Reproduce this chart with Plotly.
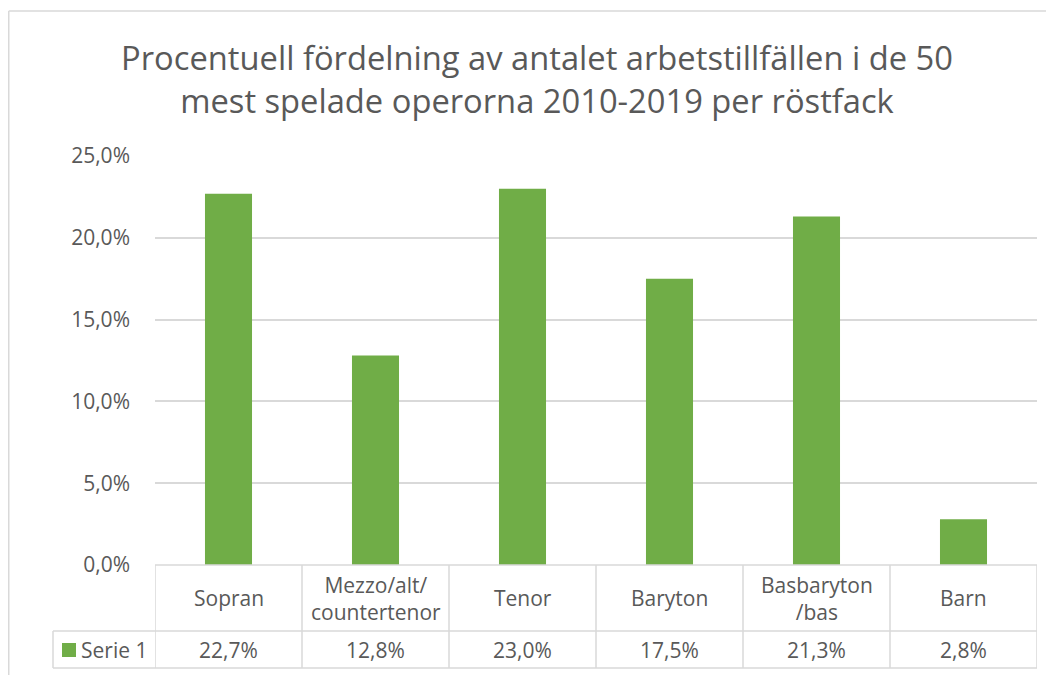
import plotly.graph_objects as go

categories = ["Sopran", "Mezzo/alt/<br>countertenor", "Tenor", "Baryton", "Basbaryton<br>/bas", "Barn"]
values = [22.7, 12.8, 23.0, 17.5, 21.3, 2.8]
value_labels = ["22,7%", "12,8%", "23,0%", "17,5%", "21,3%", "2,8%"]
series_name = "Serie 1"
title_text = "Procentuell fördelning av antalet arbetstillfällen i de 50<br>mest spelade operorna 2010-2019 per röstfack"

GREEN = "#70ad47"
TEXT = "#595959"
GRID = "#d9d9d9"
FONT = "Open Sans, Liberation Sans, sans-serif"

# page has an 8px body margin; work in page pixel coordinates
OFF = 8
W, H = 1054 - OFF, 675 - OFF
PL, PR, PT, PB = 155, 1037, 156, 565  # plot area in page pixels
L, R, T, B = PL - OFF, (1054 - PR), PT - OFF, H - (PB - OFF)
ph = PB - PT
pw = PR - PL

def py(ypix):
    return (PB - ypix) / ph

def px(xpix):
    return (xpix - PL) / pw

n = len(categories)
x_idx = list(range(n))

fig = go.Figure()
fig.add_trace(go.Bar(
    x=x_idx, y=values, marker=dict(color=GREEN, line=dict(width=0)),
    width=0.32, name=series_name, showlegend=False, hoverinfo="skip",
))

shapes = []
annotations = []
row1_bot = py(631)
row2_bot = py(668)
ln = dict(color=GRID, width=1.5)
shapes.append(dict(type="line", xref="paper", yref="paper", x0=0, x1=1, y0=0, y1=0, line=ln))
shapes.append(dict(type="line", xref="paper", yref="paper", x0=px(53), x1=1, y0=row1_bot, y1=row1_bot, line=ln))
shapes.append(dict(type="line", xref="paper", yref="paper", x0=px(53), x1=1, y0=row2_bot, y1=row2_bot, line=ln))
for i in range(n + 1):
    shapes.append(dict(type="line", xref="x", yref="paper", x0=i - 0.5, x1=i - 0.5, y0=0, y1=row2_bot, line=ln))
shapes.append(dict(type="line", xref="paper", yref="paper", x0=px(53), x1=px(53), y0=row1_bot, y1=row2_bot, line=ln))
# outer chart border (top & left)
shapes.append(dict(type="line", xref="paper", yref="paper", x0=px(8.75), x1=px(1054), y0=py(11), y1=py(11), line=ln))
shapes.append(dict(type="line", xref="paper", yref="paper", x0=px(8.75), x1=px(8.75), y0=py(11), y1=py(680), line=ln))
# legend key square
shapes.append(dict(type="rect", xref="paper", yref="paper", x0=px(62), x1=px(76), y0=py(657), y1=py(643),
                   fillcolor=GREEN, line=dict(width=0)))

tf = dict(size=21, color=TEXT, family=FONT)
for i, (c, v) in enumerate(zip(categories, value_labels)):
    annotations.append(dict(x=i, y=(0 + row1_bot) / 2, xref="x", yref="paper", text=c, showarrow=False,
                            xanchor="center", yanchor="middle", font=tf, align="center"))
    annotations.append(dict(x=i, y=(row1_bot + row2_bot) / 2, xref="x", yref="paper", text=v, showarrow=False,
                            xanchor="center", yanchor="middle", font=tf))
annotations.append(dict(x=px(79), y=(row1_bot + row2_bot) / 2, xref="paper", yref="paper", text=series_name,
                        showarrow=False, xanchor="left", yanchor="middle", font=tf))

fig.update_layout(
    width=W, height=H,
    margin=dict(l=L, r=R, t=T, b=B, autoexpand=False),
    paper_bgcolor="white", plot_bgcolor="white",
    title=dict(text=title_text, x=(537 - OFF) / W, xanchor="center", y=1 - 62 / H, yanchor="middle",
               font=dict(size=32.7, color=TEXT, family=FONT)),
    xaxis=dict(range=[-0.5, n - 0.5], showticklabels=False, showgrid=False, zeroline=False,
               showline=False, ticks=""),
    yaxis=dict(range=[0, 25], dtick=5, tickformat=".1f", ticksuffix="%", showgrid=True,
               gridcolor=GRID, gridwidth=1.5, zeroline=False, showline=False,
               tickfont=tf, ticklabelstandoff=24),
    separators=", ",
    shapes=shapes, annotations=annotations,
    showlegend=False,
)

fig.write_html("out.html")
